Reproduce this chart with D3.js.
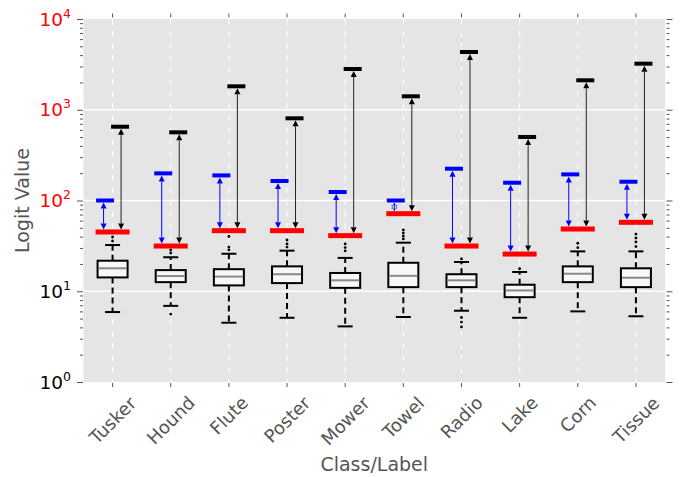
<!DOCTYPE html>
<html lang="en">

<head>
    <meta charset="UTF-8">
    <title>logit boxplot</title>
    <script src="https://d3js.org/d3.v7.min.js"></script>
    <style>
        body { margin: 0; background: #fff; }
        text { font-family: "DejaVu Sans", sans-serif; }
    </style>
</head>

<body>

    <svg width="688" height="477"></svg>

</body>

<script>
    // data
    var categories = ["Tusker", "Hound", "Flute", "Poster", "Mower", "Towel", "Radio", "Lake", "Corn", "Tissue"];
    var whiskerLow = [5.9, 6.9, 4.5, 5.1, 4.1, 5.2, 6.1, 5.1, 6.0, 5.3];
    var q1 = [14.2, 12.6, 11.6, 12.3, 10.9, 11.1, 11.1, 8.6, 12.6, 11.1];
    var medians = [17.9, 14.7, 14.5, 15.4, 13.2, 14.8, 13.2, 10.2, 15.6, 14.1];
    var q3 = [21.7, 17.1, 17.5, 18.8, 15.9, 20.6, 15.4, 11.8, 18.8, 17.9];
    var whiskerHigh = [32.3, 23.7, 25.9, 28.0, 23.3, 34.3, 21.0, 16.3, 27.5, 27.5];
    var outliers = [
        [35.8, 39.6],
        [26.4, 28.5, 5.6],
        [28.5, 30.7, 40.1],
        [30.7, 33.2, 36.7],
        [27.8, 30.3, 33.2],
        [37.7, 40.6, 43.8, 47.3],
        [22.7, 5.14, 4.58, 4.04],
        [17.7],
        [30.2, 33.8],
        [31.1, 35.0, 38.6, 42.7]
    ];
    var redValues = [45, 31.5, 46.5, 46.5, 41, 71.6, 31.5, 25.7, 48.5, 57.5];
    var blueValues = [100, 199, 189, 164, 124, 100, 224, 157, 194, 161];
    var blackValues = [650, 564, 1813, 805, 2812, 1407, 4328, 501, 2111, 3219];
    var yTicks = [1, 10, 100, 1000, 10000];
    var yTickColors = ["#000", "#000", "#f00", "#f00", "#f00"];

    var svg = d3.select('svg');
    var pLeft = 83.5, pRight = 665, pTop = 19, pBottom = 382;

    var x = d3.scaleBand().domain(categories).range([pLeft, pRight]).padding(0);
    var y = d3.scaleLog().domain([1, 10000]).range([pBottom, pTop]);
    var cx = function(d) { return x(d) + x.bandwidth() / 2; };

    // background
    svg.append('rect')
        .attr('x', pLeft).attr('y', pTop)
        .attr('width', pRight - pLeft).attr('height', pBottom - pTop)
        .attr('fill', '#e5e5e5');

    // grid
    svg.append('g').selectAll('line')
        .data(yTicks.slice(1, 4))
        .join('line')
        .attr('x1', pLeft).attr('x2', pRight)
        .attr('y1', d => y(d)).attr('y2', d => y(d))
        .attr('stroke', '#fff').attr('stroke-width', 1.5);

    svg.append('g').selectAll('line')
        .data(categories)
        .join('line')
        .attr('x1', cx).attr('x2', cx)
        .attr('y1', pTop).attr('y2', pBottom)
        .attr('stroke', '#fff').attr('stroke-width', 1)
        .attr('stroke-dasharray', '6,6');

    // minor + major ticks on both sides
    var minors = [];
    for (var e = 0; e < 4; e++) {
        for (var k = 2; k < 10; k++) minors.push(k * Math.pow(10, e));
    }
    function yAxisTicks(g, axisFn) {
        g.append('g').call(axisFn(y).tickValues(minors).tickSize(3).tickFormat(''));
        g.append('g').call(axisFn(y).tickValues(yTicks).tickSize(6).tickFormat(''));
        g.selectAll('.domain').remove();
        g.selectAll('.tick line').attr('stroke', '#555');
    }
    svg.append('g').attr('transform', 'translate(' + (pLeft - 0.5) + ',0)').call(g => yAxisTicks(g, d3.axisLeft));
    svg.append('g').attr('transform', 'translate(' + (pRight + 1.5) + ',0)').call(g => yAxisTicks(g, d3.axisRight));

    // x ticks top and bottom
    var xb = svg.append('g').attr('transform', 'translate(0,' + (pBottom + 1) + ')')
        .call(d3.axisBottom(x).tickSize(4).tickFormat(''));
    var xt = svg.append('g').attr('transform', 'translate(0,' + (pTop - 1.5) + ')')
        .call(d3.axisTop(x).tickSize(4).tickFormat(''));
    [xb, xt].forEach(function(g) {
        g.select('.domain').remove();
        g.selectAll('.tick line').attr('stroke', '#555');
    });

    // y tick labels 10^k
    var yl = svg.append('g').selectAll('text')
        .data(yTicks)
        .join('text')
        .attr('x', 71)
        .attr('y', d => y(d) + 6.5)
        .attr('text-anchor', 'end')
        .attr('fill', (d, i) => yTickColors[i]);
    yl.append('tspan').attr('font-size', 18.5).text('10');
    yl.append('tspan').attr('font-size', 12.5).attr('dy', -8).text(d => Math.round(Math.log10(d)));

    // x tick labels, rotated 45
    svg.append('g').selectAll('text')
        .data(categories)
        .join('text')
        .attr('font-size', 18)
        .attr('fill', '#555')
        .attr('text-anchor', 'middle')
        .text(d => d)
        .each(function(d) {
            var bb = this.getBBox();
            var H = (bb.width + bb.height) * Math.SQRT1_2;
            d3.select(this)
                .attr('dy', -(bb.y + bb.height / 2))
                .attr('transform', 'translate(' + cx(d) + ',' + (392 + H / 2) + ') rotate(-45)');
        });

    // axis titles
    svg.append('text')
        .attr('x', (pLeft + pRight) / 2).attr('y', 471)
        .attr('text-anchor', 'middle')
        .attr('font-size', 19).attr('fill', '#555')
        .text('Class/Label');
    svg.append('text')
        .attr('transform', 'translate(29,' + ((pTop + pBottom) / 2) + ') rotate(-90)')
        .attr('text-anchor', 'middle')
        .attr('font-size', 19).attr('fill', '#555')
        .text('Logit Value');

    // boxplots
    var boxW = 30, capW = 15;
    var bp = svg.append('g').selectAll('g')
        .data(categories)
        .join('g')
        .attr('transform', d => 'translate(' + cx(d) + ',0)');

    bp.append('line') // lower whisker
        .attr('y1', (d, i) => y(q1[i])).attr('y2', (d, i) => y(whiskerLow[i]))
        .attr('stroke', '#000').attr('stroke-width', 2).attr('stroke-dasharray', '6,4');
    bp.append('line') // upper whisker
        .attr('y1', (d, i) => y(q3[i])).attr('y2', (d, i) => y(whiskerHigh[i]))
        .attr('stroke', '#000').attr('stroke-width', 2).attr('stroke-dasharray', '6,4');
    bp.append('line')
        .attr('x1', -capW / 2).attr('x2', capW / 2)
        .attr('y1', (d, i) => y(whiskerLow[i])).attr('y2', (d, i) => y(whiskerLow[i]))
        .attr('stroke', '#000').attr('stroke-width', 2);
    bp.append('line')
        .attr('x1', -capW / 2).attr('x2', capW / 2)
        .attr('y1', (d, i) => y(whiskerHigh[i])).attr('y2', (d, i) => y(whiskerHigh[i]))
        .attr('stroke', '#000').attr('stroke-width', 2);
    bp.append('rect')
        .attr('x', -boxW / 2).attr('width', boxW)
        .attr('y', (d, i) => y(q3[i]))
        .attr('height', (d, i) => y(q1[i]) - y(q3[i]))
        .attr('fill', '#f7f7f7').attr('stroke', '#000').attr('stroke-width', 2);
    bp.append('line')
        .attr('x1', -boxW / 2 + 1).attr('x2', boxW / 2 - 1)
        .attr('y1', (d, i) => y(medians[i])).attr('y2', (d, i) => y(medians[i]))
        .attr('stroke', '#888').attr('stroke-width', 2);
    bp.each(function(d, i) {
        d3.select(this).selectAll('circle')
            .data(outliers[i])
            .join('circle')
            .attr('cy', v => y(v)).attr('r', 1.4).attr('fill', '#000');
    });

    // double headed arrow between two values
    function arrowPath(ax, yA, yB) {
        var hl = 6;
        return 'M' + ax + ',' + (yA + hl) + 'L' + ax + ',' + (yB - hl);
    }
    function heads(ax, yA, yB) {
        var hl = 6, hw = 3;
        return 'M' + ax + ',' + yA + 'L' + (ax - hw) + ',' + (yA + hl) + 'L' + (ax + hw) + ',' + (yA + hl) + 'Z' +
            'M' + ax + ',' + yB + 'L' + (ax - hw) + ',' + (yB - hl) + 'L' + (ax + hw) + ',' + (yB - hl) + 'Z';
    }

    var marks = svg.append('g').selectAll('g')
        .data(categories)
        .join('g')
        .attr('transform', d => 'translate(' + cx(d) + ',0)');

    // red bars
    marks.append('rect')
        .attr('x', -17).attr('width', 34)
        .attr('y', (d, i) => y(redValues[i]) - 2.5).attr('height', 5)
        .attr('fill', '#f00');

    // blue arrows + bars
    marks.append('path')
        .attr('d', (d, i) => arrowPath(-9, y(blueValues[i]) + 2, y(redValues[i]) - 2.5))
        .attr('stroke', '#00f').attr('stroke-width', 1).attr('fill', 'none');
    marks.append('path')
        .attr('d', (d, i) => heads(-9, y(blueValues[i]) + 2, y(redValues[i]) - 2.5))
        .attr('fill', '#00f');
    marks.append('rect')
        .attr('x', -16.5).attr('width', 18)
        .attr('y', (d, i) => y(blueValues[i]) - 2).attr('height', 4)
        .attr('fill', '#00f');

    // black arrows + bars
    marks.append('path')
        .attr('d', (d, i) => arrowPath(8.5, y(blackValues[i]) + 2, y(redValues[i]) - 2.5))
        .attr('stroke', '#222').attr('stroke-width', 1).attr('fill', 'none');
    marks.append('path')
        .attr('d', (d, i) => heads(8.5, y(blackValues[i]) + 2, y(redValues[i]) - 2.5))
        .attr('fill', '#000');
    marks.append('rect')
        .attr('x', -1.5).attr('width', 18)
        .attr('y', (d, i) => y(blackValues[i]) - 2).attr('height', 4)
        .attr('fill', '#000');
</script>

</html>
